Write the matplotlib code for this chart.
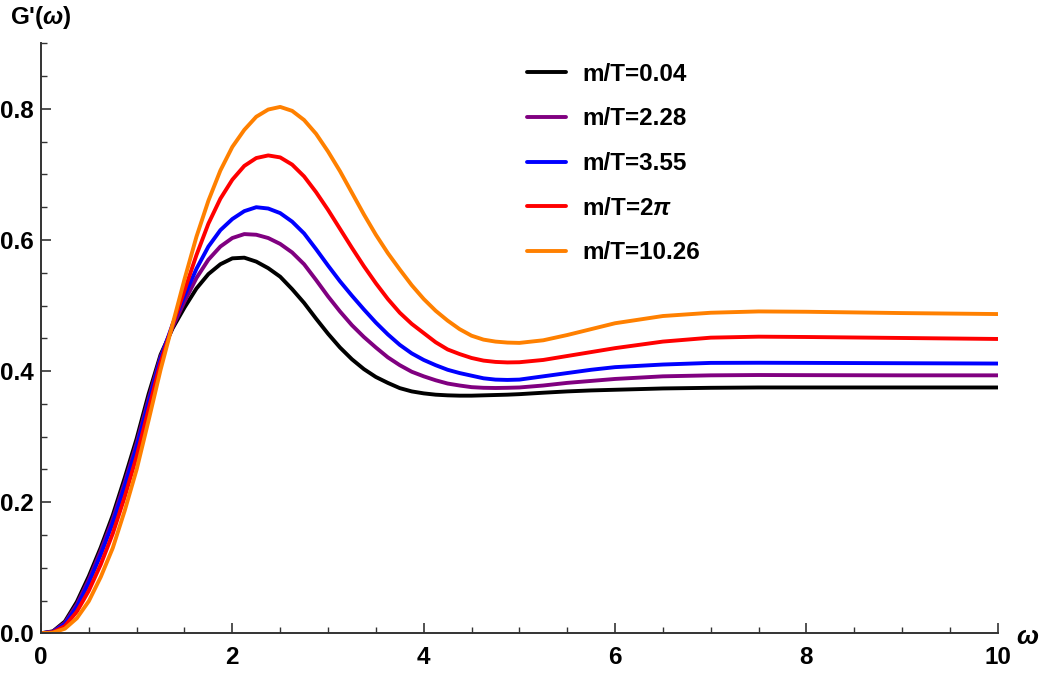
import numpy as np
import matplotlib
matplotlib.use("Agg")
import matplotlib.pyplot as plt
from matplotlib.ticker import MultipleLocator, FormatStrFormatter

plt.rcParams['font.family'] = ['Liberation Sans', 'DejaVu Sans']
plt.rcParams['font.weight'] = 'bold'
plt.rcParams['mathtext.fontset'] = 'custom'
plt.rcParams['mathtext.it'] = 'Liberation Sans:italic:bold'
plt.rcParams['mathtext.rm'] = 'Liberation Sans:bold'

# values
omega = [0, 0.125, 0.25, 0.375, 0.5, 0.625, 0.75, 0.875, 1.0, 1.125, 1.25,
         1.375, 1.5, 1.625, 1.75, 1.875, 2.0, 2.125, 2.25, 2.375, 2.5, 2.625,
         2.75, 2.875, 3.0, 3.125, 3.25, 3.375, 3.5, 3.625, 3.75, 3.875, 4.0,
         4.125, 4.25, 4.375, 4.5, 4.625, 4.75, 4.875, 5.0,
         5.25, 5.5, 5.75, 6.0, 6.5, 7.0, 7.5, 8.0, 9.0, 10.0]

g_004 = [0, 0.003, 0.018, 0.048, 0.087, 0.131, 0.18, 0.237, 0.297, 0.365, 0.425,
         0.465, 0.497, 0.526, 0.548, 0.563, 0.572, 0.573, 0.567, 0.557, 0.544, 0.525,
         0.504, 0.480, 0.457, 0.436, 0.418, 0.403, 0.391, 0.382, 0.374, 0.369, 0.366,
         0.364, 0.363, 0.3625, 0.3625, 0.363, 0.3635, 0.364, 0.3648,
         0.367, 0.369, 0.3705, 0.3715, 0.3735, 0.3745, 0.375, 0.375, 0.375, 0.375]
g_228 = [0, 0.0025, 0.016, 0.044, 0.082, 0.126, 0.174, 0.23, 0.29, 0.358, 0.422,
         0.467, 0.506, 0.542, 0.57, 0.59, 0.603, 0.609, 0.608, 0.603, 0.594, 0.581,
         0.563, 0.539, 0.514, 0.491, 0.47, 0.452, 0.436, 0.421, 0.409, 0.399, 0.392,
         0.386, 0.381, 0.378, 0.3755, 0.3745, 0.3742, 0.3745, 0.375,
         0.378, 0.382, 0.385, 0.388, 0.392, 0.3935, 0.394, 0.3938, 0.3935, 0.3935]
g_355 = [0, 0.002, 0.014, 0.04, 0.077, 0.12, 0.168, 0.224, 0.284, 0.352, 0.419,
         0.471, 0.515, 0.556, 0.59, 0.615, 0.632, 0.644, 0.650, 0.648, 0.641, 0.628,
         0.610, 0.586, 0.561, 0.537, 0.515, 0.494, 0.474, 0.456, 0.44, 0.427, 0.417,
         0.409, 0.402, 0.397, 0.393, 0.389, 0.387, 0.3865, 0.387,
         0.392, 0.397, 0.402, 0.406, 0.410, 0.4125, 0.4127, 0.4125, 0.412, 0.4115]
g_2pi = [0, 0.0015, 0.011, 0.033, 0.065, 0.105, 0.152, 0.208, 0.27, 0.342, 0.413,
         0.47, 0.523, 0.577, 0.625, 0.663, 0.692, 0.713, 0.725, 0.729, 0.726, 0.715,
         0.697, 0.673, 0.646, 0.617, 0.588, 0.56, 0.534, 0.51, 0.489, 0.472, 0.458,
         0.444, 0.433, 0.426, 0.420, 0.416, 0.414, 0.4132, 0.4135,
         0.417, 0.423, 0.429, 0.435, 0.445, 0.451, 0.4525, 0.452, 0.4505, 0.449]
g_1026 = [0, 0.001, 0.007, 0.023, 0.049, 0.086, 0.13, 0.187, 0.25, 0.325, 0.402,
          0.471, 0.54, 0.605, 0.66, 0.706, 0.742, 0.768, 0.788, 0.799, 0.803, 0.797,
          0.783, 0.762, 0.735, 0.705, 0.672, 0.639, 0.608, 0.58, 0.555, 0.531, 0.51,
          0.492, 0.477, 0.464, 0.454, 0.448, 0.445, 0.4435, 0.443,
          0.447, 0.455, 0.464, 0.473, 0.484, 0.489, 0.491, 0.4905, 0.4885, 0.487]

labels = ["m/T=0.04", "m/T=2.28", "m/T=3.55", r"m/T=2$\pi$", "m/T=10.26"]
colors = ["black", "#800080", "#0000ff", "#ff0000", "#ff8000"]
series = [g_004, g_228, g_355, g_2pi, g_1026]

fig = plt.figure(figsize=(10.4, 6.75), dpi=100)
ax = fig.add_axes([0.0394, 0.0618, 0.920, 0.874])

for y, c, lab in zip(series, colors, labels):
    ax.plot(omega, y, color=c, lw=2.8, label=lab, solid_joinstyle='round',
            solid_capstyle='round')

ax.set_xlim(0, 10)
ax.set_ylim(0, 0.9)
for s in ['top', 'right']:
    ax.spines[s].set_visible(False)
for s in ['left', 'bottom']:
    ax.spines[s].set_color('#333333')
    ax.spines[s].set_linewidth(1.4)

ax.xaxis.set_major_locator(MultipleLocator(2))
ax.xaxis.set_minor_locator(MultipleLocator(0.5))
ax.yaxis.set_major_locator(MultipleLocator(0.2))
ax.yaxis.set_minor_locator(MultipleLocator(0.05))
ax.yaxis.set_major_formatter(FormatStrFormatter('%.1f'))
ax.tick_params(which='major', direction='in', length=7, width=1.2,
               color='#333333', labelsize=17.5)
ax.tick_params(axis='x', which='major', pad=9)
ax.tick_params(axis='y', which='major', pad=5.5)
ax.tick_params(which='minor', direction='in', length=4, width=1.0,
               color='#333333')

fig.text(0.0096, 0.974, r"G'($\omega$)", fontsize=17.5, fontweight='bold',
         va='center', ha='left')
fig.text(0.977, 0.056, r"$\omega$", fontsize=19, va='center', ha='left')

ax.legend(loc='upper left', bbox_to_anchor=(0.507, 0.907),
          bbox_transform=fig.transFigure, frameon=False, fontsize=17.5,
          handlelength=1.6, handletextpad=0.66, labelspacing=0.89,
          borderpad=0, borderaxespad=0)

fig.savefig("out.png", dpi=100)
